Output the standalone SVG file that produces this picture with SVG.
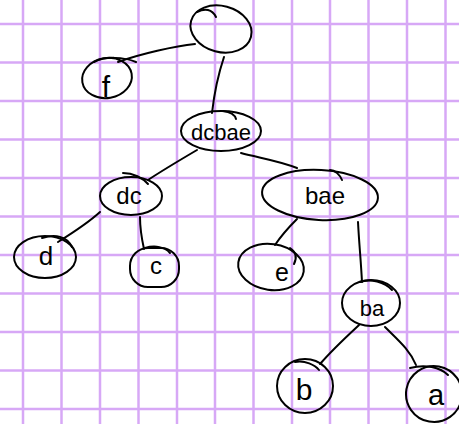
<svg xmlns="http://www.w3.org/2000/svg" width="459" height="424" viewBox="0 0 459 424">
<defs>
<style>
.grid line{stroke:#d7a8f6;stroke-width:2.5}
.node ellipse,.node path,.node rect{fill:none;stroke:#000;stroke-width:2;stroke-linecap:round}
.edges path{fill:none;stroke:#000;stroke-width:2;stroke-linecap:round}
text{font-family:"Liberation Sans","DejaVu Sans",sans-serif;fill:#000;text-anchor:middle}
</style>
</defs>
<rect width="459" height="424" fill="#fff"/>
<g class="grid">
<line x1="23" y1="0" x2="23" y2="424"/><line x1="61.5" y1="0" x2="61.5" y2="424"/><line x1="100" y1="0" x2="100" y2="424"/><line x1="138.5" y1="0" x2="138.5" y2="424"/><line x1="177" y1="0" x2="177" y2="424"/><line x1="215" y1="0" x2="215" y2="424"/><line x1="253.5" y1="0" x2="253.5" y2="424"/><line x1="292" y1="0" x2="292" y2="424"/><line x1="330" y1="0" x2="330" y2="424"/><line x1="368.5" y1="0" x2="368.5" y2="424"/><line x1="407" y1="0" x2="407" y2="424"/><line x1="445.5" y1="0" x2="445.5" y2="424"/>
<line x1="0" y1="24" x2="459" y2="24"/><line x1="0" y1="62.5" x2="459" y2="62.5"/><line x1="0" y1="101" x2="459" y2="101"/><line x1="0" y1="139.5" x2="459" y2="139.5"/><line x1="0" y1="178" x2="459" y2="178"/><line x1="0" y1="216.5" x2="459" y2="216.5"/><line x1="0" y1="255" x2="459" y2="255"/><line x1="0" y1="293.5" x2="459" y2="293.5"/><line x1="0" y1="332" x2="459" y2="332"/><line x1="0" y1="370.5" x2="459" y2="370.5"/><line x1="0" y1="409" x2="459" y2="409"/>
</g>
<g class="edges">
<path d="M195,44 C175,46 140,54 118,62"/>
<path d="M224,57 C218,75 214,95 212,113"/>
<path d="M197,150 C180,160 163,170 148,180"/>
<path d="M241,153 C260,158 280,161 297,168"/>
<path d="M100,212 C88,223 74,232 58,242"/>
<path d="M140,217 C140,228 142,240 144,249"/>
<path d="M297,219 C289,227 281,236 275,245"/>
<path d="M358,222 C359,242 361,262 362,282"/>
<path d="M359,325 C345,338 332,350 320,364"/>
<path d="M385,327 C398,340 410,350 416,365"/>
</g>
<g class="node" id="root">
<ellipse cx="221" cy="29" rx="31" ry="23" transform="rotate(15 221 29)"/>
<path d="M197,12 C205,8 212,9 216,17"/>
</g>
<g class="node" id="n-f">
<ellipse cx="107" cy="78" rx="25" ry="20" transform="rotate(-10 107 78)"/>
<path d="M94,62 C105,56 124,57 136,62"/>
<text x="106" y="97" font-size="30">f</text>
</g>
<g class="node" id="n-dcbae">
<ellipse cx="221" cy="131" rx="40" ry="20"/>
<path d="M223,111 C230,112 235,115 236,119"/>
<text x="221" y="140" font-size="22">dcbae</text>
</g>
<g class="node" id="n-dc">
<ellipse cx="131" cy="196" rx="31" ry="19"/>
<path d="M123,173 C133,173 143,178 148,184"/>
<text x="129" y="204" font-size="24">dc</text>
</g>
<g class="node" id="n-bae">
<ellipse cx="320" cy="195" rx="58" ry="25" transform="rotate(3 320 195)"/>
<path d="M330,170 C335,170 340,175 342,180"/>
<text x="325" y="204" font-size="24">bae</text>
</g>
<g class="node" id="n-d">
<ellipse cx="45" cy="257" rx="31" ry="21"/>
<path d="M42,238 C55,234 67,236 72,247"/>
<text x="46" y="265" font-size="26">d</text>
</g>
<g class="node" id="n-c">
<rect x="130" y="248" width="49" height="39" rx="18" ry="18"/>
<path d="M145,248 C155,245 165,247 170,253"/>
<text x="156" y="274" font-size="24">c</text>
</g>
<g class="node" id="n-e">
<ellipse cx="271" cy="267" rx="33" ry="23" transform="rotate(8 271 267)"/>
<path d="M290,248 C296,252 297,258 294,264"/>
<text x="282" y="281" font-size="25">e</text>
</g>
<g class="node" id="n-ba">
<ellipse cx="371" cy="303" rx="29" ry="23"/>
<path d="M360,282 C370,278 385,282 392,290"/>
<text x="372" y="316" font-size="22">ba</text>
</g>
<g class="node" id="n-b">
<ellipse cx="305" cy="386" rx="28" ry="27"/>
<path d="M295,362 C305,360 315,365 319,370"/>
<text x="304" y="400" font-size="30">b</text>
</g>
<g class="node" id="n-a">
<ellipse cx="434" cy="394" rx="28" ry="28" transform="rotate(10 434 394)"/>
<path d="M410,368 C425,364 440,367 448,375"/>
<text x="436" y="405" font-size="29">a</text>
</g>
</svg>
